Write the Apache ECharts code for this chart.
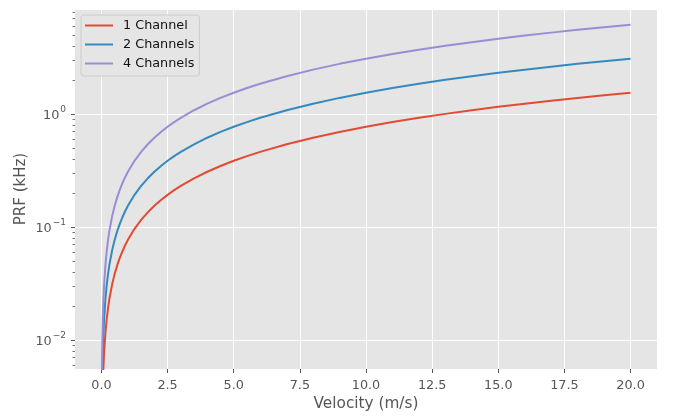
<!DOCTYPE html>
<html>
<head>
<meta charset="utf-8">
<script src="https://cdn.jsdelivr.net/npm/echarts@6/dist/echarts.min.js"></script>
<style>
html,body{margin:0;padding:0;background:#fff;}
#chart{width:685px;height:420px;}
</style>
</head>
<body>
<div id="chart"></div>
<script>
// Data
const velocity = [0.01,0.02,0.03,0.05,0.07,0.1,0.15,0.2,0.25,0.3,0.4,0.5,0.6,0.7,0.8,0.9,1.0,1.25,1.5,1.75,2.0,2.25,2.5,2.75,3.0,3.5,4,4.5,5,5.5,6,7,8,9,10,11,12,13,14,15,16,17,18,19,20];
const prf1 = [0.00077,0.00154,0.00231,0.00385,0.00539,0.0077,0.01155,0.0154,0.01925,0.0231,0.0308,0.0385,0.0462,0.0539,0.0616,0.0693,0.077,0.0963,0.1155,0.1348,0.154,0.1733,0.1925,0.2118,0.231,0.2695,0.308,0.3465,0.385,0.4235,0.462,0.539,0.616,0.693,0.77,0.847,0.924,1.001,1.078,1.155,1.232,1.309,1.386,1.463,1.54];
const prf2 = [0.00154,0.00308,0.00462,0.0077,0.01078,0.0154,0.0231,0.0308,0.0385,0.0462,0.0616,0.077,0.0924,0.1078,0.1232,0.1386,0.154,0.1925,0.231,0.2695,0.308,0.3465,0.385,0.4235,0.462,0.539,0.616,0.693,0.77,0.847,0.924,1.078,1.232,1.386,1.54,1.694,1.848,2.002,2.156,2.31,2.464,2.618,2.772,2.926,3.08];
const prf4 = [0.00308,0.00616,0.00924,0.0154,0.02156,0.0308,0.0462,0.0616,0.077,0.0924,0.1232,0.154,0.1848,0.2156,0.2464,0.2772,0.308,0.385,0.462,0.539,0.616,0.693,0.77,0.847,0.924,1.078,1.232,1.386,1.54,1.694,1.848,2.156,2.464,2.772,3.08,3.388,3.696,4.004,4.312,4.62,4.928,5.236,5.544,5.852,6.16];
const seriesNames = ['1 Channel','2 Channels','4 Channels'];
const xTicks = [0,2.5,5,7.5,10,12.5,15,17.5,20];
const yMajor = [0.01,0.1,1];
const yMinor = [0.006,0.007,0.008,0.009,0.02,0.03,0.04,0.05,0.06,0.07,0.08,0.09,0.2,0.3,0.4,0.5,0.6,0.7,0.8,0.9,2,3,4,5,6,7,8];

const Y_MIN = 0.00555, Y_MAX = 8.47;
const FONT = 'DejaVu Sans';
const GREY = '#555555';

function pairs(ys){ return velocity.map((v,i)=>[v, ys[i]]); }

const chart = echarts.init(document.getElementById('chart'), null, {renderer:'canvas'});
const option = {
  animation: false,
  backgroundColor: '#ffffff',
  textStyle: {fontFamily: FONT},
  grid: {left:75, right:28, top:9, bottom:51, show:true, backgroundColor:'#E5E5E5', borderWidth:0},
  legend: {
    data: seriesNames,
    orient: 'vertical',
    left: 81, top: 15,
    icon: 'rect', itemWidth: 28, itemHeight: 2, itemGap: 4,
    padding: [3, 5, 5, 4],
    backgroundColor: '#E5E5E5', borderColor: '#CCCCCC', borderWidth: 1, borderRadius: 3,
    textStyle: {fontFamily: FONT, fontSize: 12.8, color: '#111', lineHeight: 15, padding: [0,0,0,5]}
  },
  xAxis: {
    type: 'value', min: -1, max: 21,
    axisLine: {show:false, onZero:false},
    axisTick: {show:true, length:4, lineStyle:{color:GREY, width:1}, customValues: xTicks},
    axisLabel: {customValues: xTicks, formatter: v => Number(v).toFixed(1), color: GREY, fontSize: 12.8, margin: 10, fontFamily: FONT},
    splitLine: {show:true, lineStyle:{color:'#ffffff', width:1}},
    name: 'Velocity (m/s)', nameLocation: 'middle', nameGap: 28, nameMoveOverlap: false,
    nameTextStyle: {color: GREY, fontSize: 15.3, fontFamily: FONT}
  },
  yAxis: [
    {
      type: 'log', logBase: 10, min: Y_MIN, max: Y_MAX,
      axisLine: {show:false, onZero:false},
      axisTick: {show:false},
      splitLine: {show:true, lineStyle:{color:'#ffffff', width:1}},
      axisLabel: {
        margin: 9, color: GREY, fontFamily: FONT,
        showMinLabel: false, showMaxLabel: false,
        formatter: function(v){
          const l = Math.log10(v); const e = Math.round(l);
          if (Math.abs(l - e) > 0.01) return '';
          const es = e < 0 ? '\u2212' + (-e) : String(e);
          return '{b|10}{s|' + es + '}';
        },
        rich: {
          b: {fontSize: 12.8, color: GREY, fontFamily: FONT, lineHeight: 17, verticalAlign: 'bottom'},
          s: {fontSize: 9, color: GREY, fontFamily: FONT, lineHeight: 9, verticalAlign: 'top', padding: [0,0,0,1]}
        }
      },
      name: 'PRF (kHz)', nameLocation: 'middle', nameGap: 46, nameMoveOverlap: false,
      nameTextStyle: {color: GREY, fontSize: 15, fontFamily: FONT}
    },
    {
      type: 'value', position: 'left', min: Math.log10(Y_MIN), max: Math.log10(Y_MAX),
      axisLine: {show:false, onZero:false}, splitLine: {show:false}, axisLabel: {show:false},
      axisTick: {show:true, length:4, lineStyle:{color:GREY, width:1}, customValues: yMajor.map(Math.log10)}
    },
    {
      type: 'value', position: 'left', min: Math.log10(Y_MIN), max: Math.log10(Y_MAX),
      axisLine: {show:false, onZero:false}, splitLine: {show:false}, axisLabel: {show:false},
      axisTick: {show:true, length:2.5, lineStyle:{color:'#777777', width:1}, customValues: yMinor.map(Math.log10)}
    }
  ],
  series: [
    {name: seriesNames[0], type:'line', data: pairs(prf1), symbol:'none', yAxisIndex:0, clip:true, lineStyle:{color:'#E24A33', width:2}, itemStyle:{color:'#E24A33'}},
    {name: seriesNames[1], type:'line', data: pairs(prf2), symbol:'none', yAxisIndex:0, clip:true, lineStyle:{color:'#348ABD', width:2}, itemStyle:{color:'#348ABD'}},
    {name: seriesNames[2], type:'line', data: pairs(prf4), symbol:'none', yAxisIndex:0, clip:true, lineStyle:{color:'#988ED5', width:2}, itemStyle:{color:'#988ED5'}}
  ]
};
chart.setOption(option);
</script>
</body>
</html>
